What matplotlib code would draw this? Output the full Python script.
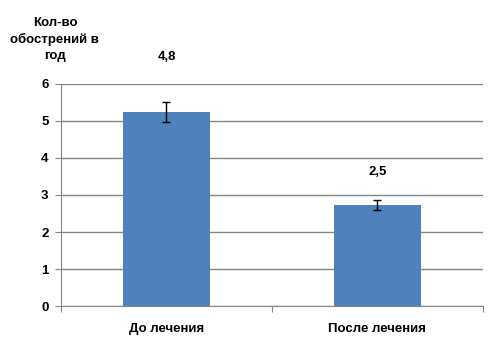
import matplotlib.pyplot as plt
import numpy as np

plt.rcParams['font.family'] = ['Liberation Sans', 'DejaVu Sans']

categories = ['До лечения', 'После лечения']
values = [5.23, 2.73]
errors = [0.27, 0.14]
labels = ['4,8', '2,5']
label_y = [6.73, 3.62]

fig = plt.figure(figsize=(5.04, 3.51), dpi=100)
ax = fig.add_axes([0.121, 0.128, 0.837, 0.633])

x = np.arange(len(categories))
ax.bar(x, values, width=0.41, color='#4F81BD', zorder=3)
ax.errorbar(x, values, yerr=errors, fmt='none', ecolor='black',
            elinewidth=1, capsize=3, capthick=1, zorder=4)

for xi, lab, ly in zip(x, labels, label_y):
    ax.text(xi, ly, lab, ha='center', va='center', fontsize=9.5,
            fontweight='bold', clip_on=False)

ax.set_xlim(-0.5, 1.5)
ax.set_ylim(0, 6)
ax.set_yticks(range(7))
ax.yaxis.grid(True, color='#868686', linewidth=1, zorder=0)
ax.set_xticks([-0.5, 0.5, 1.5])
ax.set_xticklabels([])
ax.set_xticks(x, minor=True)
ax.set_xticklabels(categories, minor=True)
ax.tick_params(axis='x', which='minor', length=0, pad=12, labelsize=9.5)
ax.tick_params(axis='x', which='major', length=4, color='#868686')
ax.tick_params(axis='y', length=4, color='#868686', labelsize=9.5, pad=5)
for t in ax.get_yticklabels() + ax.get_xticklabels(minor=True):
    t.set_fontweight('bold')

for s in ['top', 'right']:
    ax.spines[s].set_visible(False)
for s in ['left', 'bottom']:
    ax.spines[s].set_color('#868686')

fig.text(0.109, 0.887, 'Кол-во\nобострений в\nгод', ha='center', va='center',
         fontsize=9.5, fontweight='bold', linespacing=1.45)

fig.savefig('out.png')
